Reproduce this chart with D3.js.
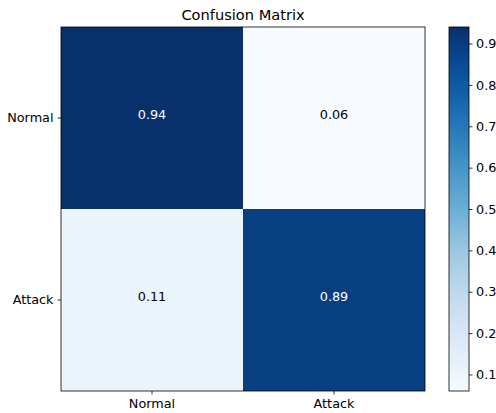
<!DOCTYPE html>
<html>
<head>
<meta charset="utf-8">
<script src="https://cdn.jsdelivr.net/npm/d3@7"></script>
<style>
  html, body { margin: 0; padding: 0; background: #fff; }
  svg { display: block; font-family: "DejaVu Sans", sans-serif; }
</style>
</head>
<body>
<svg id="chart" width="496" height="413"></svg>
<script>
// Normalised confusion matrix (rows = true class, columns = predicted class)
const classes = ["Normal", "Attack"];
const rowNormal = [0.94, 0.06];
const rowAttack = [0.11, 0.89];
const colorbarTicks = [0.1, 0.2, 0.3, 0.4, 0.5, 0.6, 0.7, 0.8, 0.9];
const title = "Confusion Matrix";

const matrix = [rowNormal, rowAttack];
const cells = [];
matrix.forEach((row, i) => row.forEach((v, j) => cells.push({ r: classes[i], c: classes[j], v })));

const svg = d3.select("#chart");
const plot = { left: 61, right: 425, top: 27, bottom: 391 };
const cbar = { left: 449, right: 469, top: 27, bottom: 391 };
const fontSize = 12.8;

const allVals = cells.map(d => d.v);
const vmin = d3.min(allVals), vmax = d3.max(allVals);

// Matplotlib-style "Blues": linear interpolation through the 9 ColorBrewer stops
const blues = d3.piecewise(d3.interpolateRgb, d3.schemeBlues[9]);
const color = d3.scaleSequential(blues).domain([vmin, vmax]);

const x = d3.scaleBand().domain(classes).range([plot.left, plot.right]);
const y = d3.scaleBand().domain(classes).range([plot.top, plot.bottom]);

// Heatmap cells
svg.append("g").selectAll("rect").data(cells).join("rect")
  .attr("x", d => x(d.c)).attr("y", d => y(d.r))
  .attr("width", x.bandwidth()).attr("height", y.bandwidth())
  .attr("fill", d => color(d.v));

// Cell annotations
const thresh = vmax / 2;
svg.append("g").selectAll("text").data(cells).join("text")
  .attr("x", d => x(d.c) + x.bandwidth() / 2)
  .attr("y", d => y(d.r) + y.bandwidth() / 2 + 0.5)
  .attr("text-anchor", "middle")
  .attr("font-size", fontSize)
  .attr("fill", d => d.v > thresh ? "#ffffff" : "#000000")
  .text(d => d3.format(".2f")(d.v));

// Axes
const axisStyle = g => {
  g.select(".domain").remove();
  g.selectAll(".tick line").attr("stroke", "#000").attr("stroke-width", 0.8);
  g.selectAll(".tick text").attr("font-size", fontSize).attr("fill", "#000")
    .attr("font-family", "DejaVu Sans, sans-serif");
};
svg.append("g").attr("transform", `translate(0,${plot.bottom})`)
  .call(d3.axisBottom(x).tickSize(3.5).tickPadding(4)).call(axisStyle);
svg.append("g").attr("transform", `translate(${plot.left},0)`)
  .call(d3.axisLeft(y).tickSize(3.5).tickPadding(4)).call(axisStyle);

// Frame around the matrix
svg.append("rect")
  .attr("x", plot.left).attr("y", plot.top)
  .attr("width", plot.right - plot.left).attr("height", plot.bottom - plot.top)
  .attr("fill", "none").attr("stroke", "#000").attr("stroke-width", 0.8);

// Title
svg.append("text")
  .attr("x", (plot.left + plot.right) / 2).attr("y", 20)
  .attr("text-anchor", "middle").attr("font-size", 14.6).attr("fill", "#000")
  .text(title);

// Colorbar
const cy = d3.scaleLinear().domain([vmin, vmax]).range([cbar.bottom, cbar.top]);
const defs = svg.append("defs");
const grad = defs.append("linearGradient").attr("id", "cbar-grad")
  .attr("x1", 0).attr("y1", 1).attr("x2", 0).attr("y2", 0);
d3.range(0, 1.0001, 0.125).forEach(t => {
  grad.append("stop").attr("offset", t).attr("stop-color", blues(t));
});
svg.append("rect")
  .attr("x", cbar.left).attr("y", cbar.top)
  .attr("width", cbar.right - cbar.left).attr("height", cbar.bottom - cbar.top)
  .attr("fill", "url(#cbar-grad)").attr("stroke", "#000").attr("stroke-width", 0.8);

svg.append("g").attr("transform", `translate(${cbar.right},0)`)
  .call(d3.axisRight(cy).tickValues(colorbarTicks).tickFormat(d3.format(".1f"))
    .tickSize(3.5).tickPadding(3.5))
  .call(axisStyle);
</script>
</body>
</html>
